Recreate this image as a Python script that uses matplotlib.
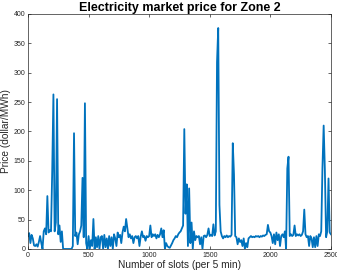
import numpy as np
import matplotlib
matplotlib.use("Agg")
import matplotlib.pyplot as plt

# price, one value every 10 slots (0..2500)
slots = np.arange(0, 2501, 10)
price = [
    22, 27, 10, 24, 18, 6, 5, 8, 4, 12,
    22, 10, 0, 30, 35, 25, 90, 28, 32, 30,
    132, 263, 30, 45, 255, 25, 40, 12, 30, 0,
    0, 0, 0, 0, 0, 0, 0, 5, 197, 22,
    28, 8, 25, 30, 40, 121, 20, 248, 10, 0,
    22, 0, 15, 5, 51, 0, 20, 3, 22, 0,
    20, 22, 0, 24, 3, 18, 0, 22, 5, 20,
    0, 25, 18, 5, 28, 20, 24, 10, 28, 38,
    30, 51, 35, 20, 25, 18, 22, 10, 20, 22,
    18, 22, 5, 21, 30, 20, 22, 14, 22, 20,
    22, 40, 20, 25, 22, 25, 18, 24, 20, 25,
    35, 20, 32, 0, 10, 5, 3, 2, 6, 10,
    15, 18, 22, 20, 25, 28, 30, 35, 40, 204,
    60, 110, 5, 103, 10, 45, 0, 30, 15, 22,
    20, 22, 8, 20, 0, 22, 23, 20, 24, 35,
    22, 24, 22, 42, 23, 30, 318, 376, 75, 30,
    22, 18, 22, 20, 23, 20, 22, 21, 24, 180,
    127, 22, 20, 8, 18, 12, 15, 5, 18, 0,
    10, 3, 18, 20, 22, 20, 21, 20, 22, 21,
    22, 20, 22, 21, 23, 22, 24, 25, 41, 30,
    28, 22, 10, 25, 8, 28, 15, 25, 5, 22,
    25, 20, 30, 0, 137, 157, 22, 25, 22, 24,
    40, 22, 25, 23, 25, 22, 24, 30, 67, 25,
    20, 22, 5, 22, 18, 3, 20, 3, 22, 5,
    25, 22, 30, 138, 210, 134, 20, 30, 120, 28,
    25,
]

plt.rcParams['font.family'] = ['Liberation Sans', 'DejaVu Sans']

fig = plt.figure(figsize=(3.37, 2.73), dpi=100)
ax = fig.add_axes([0.083, 0.088, 0.899, 0.861])

ax.plot(slots, price, color='#0072BD', linewidth=1.3)

ax.set_xlim(0, 2500)
ax.set_ylim(0, 400)
ax.set_xticks([0, 500, 1000, 1500, 2000, 2500])
ax.set_yticks(range(0, 401, 50))

ax.set_title("Electricity market price for Zone 2", fontsize=9,
             fontweight='bold', pad=2)
ax.set_xlabel("Number of slots (per 5 min)", fontsize=7.3, color='#262626', labelpad=1)
ax.set_ylabel("Price (dollar/MWh)", fontsize=7.3, color='#262626', labelpad=2)

ax.tick_params(direction='in', length=2.5, width=0.5, labelsize=5,
               colors='#262626', top=True, right=True, pad=2)
for s in ax.spines.values():
    s.set_linewidth(0.5)
    s.set_color('#262626')

fig.savefig("out.png", dpi=100)
